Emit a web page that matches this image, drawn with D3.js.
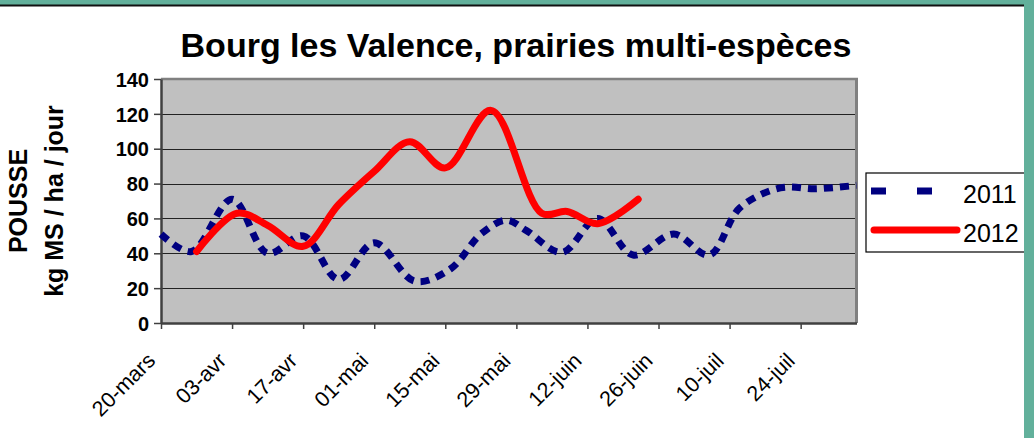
<!DOCTYPE html>
<html>
<head>
<meta charset="utf-8">
<script src="https://cdn.jsdelivr.net/npm/d3@7"></script>
<style>
  html, body { margin: 0; padding: 0; background: #62b09b; }
  svg { display: block; }
</style>
</head>
<body>
<svg id="chart" width="1034" height="438"></svg>
<script>
// ---- data ----
const titleText = "Bourg les Valence, prairies multi-espèces";
const yTitleLines = ["POUSSE", "kg MS / ha / jour"];
const yTicks = [0, 20, 40, 60, 80, 100, 120, 140];
const xTickDates = ["2011-03-20", "2011-04-03", "2011-04-17", "2011-05-01", "2011-05-15",
                    "2011-05-29", "2011-06-12", "2011-06-26", "2011-07-10", "2011-07-24"];
const xTickLabels = ["20-mars", "03-avr", "17-avr", "01-mai", "15-mai",
                     "29-mai", "12-juin", "26-juin", "10-juil", "24-juil"];
const xDomain = ["2011-03-20", "2011-08-04"];

const seriesNames = ["2011", "2012"];
const dates2011 = ["2011-03-20", "2011-03-26", "2011-04-03", "2011-04-10", "2011-04-17",
                   "2011-04-24", "2011-05-01", "2011-05-09", "2011-05-16", "2011-05-22",
                   "2011-05-27", "2011-05-31", "2011-06-07", "2011-06-14", "2011-06-21",
                   "2011-06-29", "2011-07-06", "2011-07-12", "2011-07-20", "2011-07-27",
                   "2011-08-04"];
const values2011 = [51, 41, 71, 40, 50, 25, 46, 24, 31, 51, 59, 53, 40.5, 60, 39, 51, 39, 66, 77.5, 77, 79];
const dates2012 = ["2011-03-27", "2011-04-04", "2011-04-10", "2011-04-17", "2011-04-24",
                   "2011-05-01", "2011-05-08", "2011-05-15", "2011-05-24", "2011-06-03",
                   "2011-06-08", "2011-06-14", "2011-06-22"];
const values2012 = [41, 63, 56, 44, 68, 87, 104, 89, 122, 63, 64, 57, 71];

// ---- drawing ----
const parse = d3.timeParse("%Y-%m-%d");
const svg = d3.select("#chart");
const W = 1034, H = 438;
const FONT = "'Liberation Sans', Arial, sans-serif";

// page frame: white panel with dark top rule, green border
svg.append("rect").attr("x", 0).attr("y", 0).attr("width", W).attr("height", H).attr("fill", "#62b09b");
svg.append("rect").attr("x", 0).attr("y", 6).attr("width", 1024).attr("height", H - 6).attr("fill", "#ffffff");
svg.append("line").attr("x1", 0).attr("x2", 1024).attr("y1", 5.5).attr("y2", 5.5)
   .attr("stroke", "#111").attr("stroke-width", 2);

const plot = { left: 161, right: 856.5, top: 79, bottom: 323 };

const x = d3.scaleTime()
  .domain(xDomain.map(parse))
  .range([plot.left, plot.right]);
const y = d3.scaleLinear()
  .domain([0, 140])
  .range([plot.bottom, plot.top]);

// plot background
svg.append("rect")
  .attr("x", plot.left).attr("y", plot.top)
  .attr("width", plot.right - plot.left).attr("height", plot.bottom - plot.top)
  .attr("fill", "#c0c0c0");

// gridlines
svg.append("g").selectAll("line")
  .data(yTicks.filter(v => v > 0 && v < 140))
  .join("line")
  .attr("x1", plot.left).attr("x2", plot.right)
  .attr("y1", d => Math.round(y(d)) + 0.5).attr("y2", d => Math.round(y(d)) + 0.5)
  .attr("stroke", "#222").attr("stroke-width", 1.2);

// plot frame (top & right gray)
svg.append("line").attr("x1", plot.left).attr("x2", plot.right + 1.5)
  .attr("y1", plot.top).attr("y2", plot.top).attr("stroke", "#808080").attr("stroke-width", 2.5);
svg.append("line").attr("x1", plot.right).attr("x2", plot.right)
  .attr("y1", plot.top).attr("y2", plot.bottom).attr("stroke", "#808080").attr("stroke-width", 3);

// y axis
const yAxis = svg.append("g")
  .attr("transform", `translate(${plot.left},0)`)
  .call(d3.axisLeft(y).tickValues(yTicks).tickSize(7).tickPadding(5).tickSizeOuter(0));
yAxis.select(".domain").attr("stroke", "#404040").attr("stroke-width", 2.5);
yAxis.selectAll(".tick line").attr("stroke", "#404040").attr("stroke-width", 1.5);
yAxis.selectAll(".tick text")
  .attr("font-family", FONT)
  .attr("font-weight", "bold").attr("font-size", 20).attr("fill", "#000")
  .attr("dy", "0.36em");

// x axis
const tickDates = xTickDates.map(parse);
const xAxis = svg.append("g")
  .attr("transform", `translate(0,${plot.bottom})`)
  .call(d3.axisBottom(x).tickValues(tickDates).tickSize(6).tickSizeOuter(0)
        .tickFormat((d, i) => xTickLabels[i]));
xAxis.select(".domain").attr("stroke", "#404040").attr("stroke-width", 2.5);
xAxis.selectAll(".tick line").attr("stroke", "#404040").attr("stroke-width", 1.5);
xAxis.selectAll(".tick text")
  .attr("font-family", FONT)
  .attr("font-size", 21.5).attr("fill", "#000")
  .attr("text-anchor", "end")
  .attr("y", 0).attr("dy", 0)
  .attr("transform", "translate(-5,39) rotate(-45)");

// lines
const line = d3.line()
  .x(d => x(d.date)).y(d => y(d.value))
  .curve(d3.curveCatmullRom.alpha(0.5));

const data2011 = dates2011.map((d, i) => ({ date: parse(d), value: values2011[i] }));
const data2012 = dates2012.map((d, i) => ({ date: parse(d), value: values2012[i] }));

svg.append("path").datum(data2011)
  .attr("d", line).attr("fill", "none")
  .attr("stroke", "#000080").attr("stroke-width", 7)
  .attr("stroke-dasharray", "9,7");

svg.append("path").datum(data2012)
  .attr("d", line).attr("fill", "none")
  .attr("stroke", "#ff0000").attr("stroke-width", 7)
  .attr("stroke-linecap", "round").attr("stroke-linejoin", "round");

// title
svg.append("text")
  .attr("x", 516).attr("y", 57)
  .attr("text-anchor", "middle")
  .attr("font-family", FONT)
  .attr("font-weight", "bold").attr("font-size", 34).attr("fill", "#000")
  .text(titleText);

// y title
const yt = svg.append("text")
  .attr("transform", "translate(27,201) rotate(-90)")
  .attr("text-anchor", "middle")
  .attr("font-family", FONT)
  .attr("font-weight", "bold").attr("font-size", 25).attr("fill", "#000");
yTitleLines.forEach((t, i) => {
  yt.append("tspan").attr("x", 0).attr("y", i * 36).text(t);
});

// legend
const lg = svg.append("g");
lg.append("rect").attr("x", 866).attr("y", 173).attr("width", 170).attr("height", 79)
  .attr("fill", "#fff").attr("stroke", "#000").attr("stroke-width", 1.2);
const legendItems = [
  { name: seriesNames[0], color: "#000080", dash: "15,31", cap: "butt", y: 191 },
  { name: seriesNames[1], color: "#ff0000", dash: null, cap: "round", y: 230 }
];
legendItems.forEach(it => {
  lg.append("line").attr("x1", it.cap === "round" ? 874 : 871).attr("x2", it.cap === "round" ? 957 : 935)
    .attr("y1", it.y).attr("y2", it.y)
    .attr("stroke", it.color).attr("stroke-width", 7)
    .attr("stroke-linecap", it.cap)
    .attr("stroke-dasharray", it.dash);
  lg.append("text").attr("x", 963).attr("y", it.y + 12)
    .attr("font-family", FONT)
    .attr("font-size", 25).attr("fill", "#000").text(it.name);
});
// right green strip drawn over legend box
svg.append("rect").attr("x", 1024).attr("y", 0).attr("width", 10).attr("height", H).attr("fill", "#62b09b");
</script>
</body>
</html>
